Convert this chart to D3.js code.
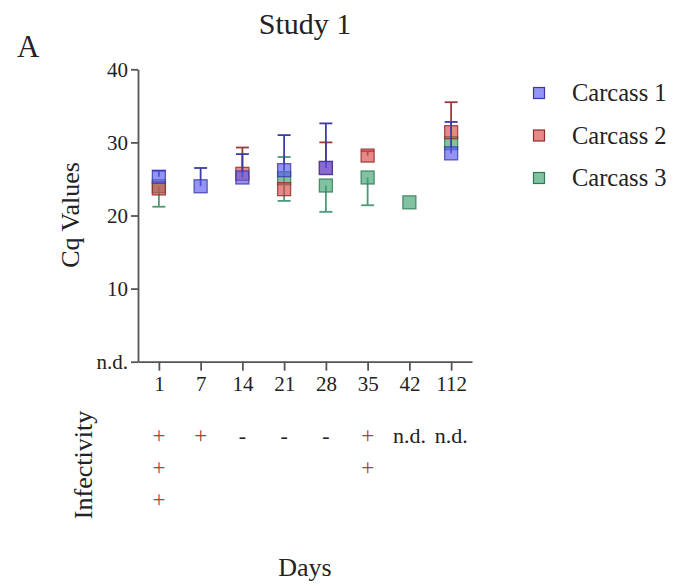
<!DOCTYPE html>
<meta charset="utf-8">
<style>
body { margin: 0; background: #fff; }
svg text { font-family: "Liberation Serif", "Times New Roman", serif; fill: #222; }
.axis path, .axis line { stroke: #555; stroke-width: 1.8px; }
.axis text { font-size: 21px; fill: #222; }
</style>
<body>
<svg id="chart" width="674" height="584"></svg>
<script src="https://cdn.jsdelivr.net/npm/d3@7"></script>
<script>

// days sampled
var days = ["1", "7", "14", "21", "28", "35", "42", "112"];

// Cq means, upper / lower error ends (null = nothing drawn)
var carcass1Mean  = [25.3, 24.0, 25.2, 26.2, 26.5, null, null, 28.5];
var carcass1Upper = [26.1, 26.5, 28.4, 31.0, 32.6, null, null, 32.8];
var carcass1Lower = [null, null, null, null, null, null, null, null];

var carcass2Mean  = [23.7, null, 25.7, 23.6, 26.5, 28.2, null, 31.4];
var carcass2Upper = [null, null, 29.3, null, 30.0, 28.8, null, 35.5];
var carcass2Lower = [null, null, null, null, null, null, null, null];

var carcass3Mean  = [24.0, null, null, 25.1, 24.1, 25.2, 21.8, 29.9];
var carcass3Upper = [null, null, null, 28.0, null, null, null, null];
var carcass3Lower = [21.2, null, null, 22.0, 20.5, 21.4, null, null];

var yTicks = [0, 10, 20, 30, 40];

// infectivity rows under each day
var infectRow1 = ["+", "+", "-", "-", "-", "+", "n.d.", "n.d."];
var infectRow2 = ["+", "", "", "", "", "+", "", ""];
var infectRow3 = ["+", "", "", "", "", "", "", ""];

var series = [
  {name: "Carcass 3", mean: carcass3Mean, up: carcass3Upper, lo: carcass3Lower,
   fill: "#3f9f70", stroke: "#2e7a52", err: "#4a9a75"},
  {name: "Carcass 2", mean: carcass2Mean, up: carcass2Upper, lo: carcass2Lower,
   fill: "#d84a4a", stroke: "#8e2b2b", err: "#9c3a3a"},
  {name: "Carcass 1", mean: carcass1Mean, up: carcass1Upper, lo: carcass1Lower,
   fill: "#5a5af0", stroke: "#3a3aa6", err: "#3c3ca8"}
];

var svg = d3.select("#chart");

var x = d3.scalePoint().domain(days).range([138, 472]).padding(0.5);
var y = d3.scaleLinear().domain([0, 40]).range([361.7, 69.3]);

svg.append("g")
    .attr("class", "axis")
    .attr("transform", "translate(138,0)")
    .call(d3.axisLeft(y).tickValues(yTicks).tickSize(7).tickSizeOuter(0).tickPadding(3)
      .tickFormat(function(d) { return d === 0 ? "n.d." : d; }));

svg.append("g")
    .attr("class", "axis")
    .attr("transform", "translate(0," + y(0) + ")")
    .call(d3.axisBottom(x).tickSize(9).tickSizeOuter(0).tickPadding(5));

var sq = 13, cap = 6.5;

series.forEach(function(s) {
  var pts = days.map(function(d, i) {
    return {day: d, m: s.mean[i], up: s.up[i], lo: s.lo[i]};
  }).filter(function(p) { return p.m != null; });

  var g = svg.append("g");

  pts.forEach(function(p) {
    var cx = x(p.day);
    [p.up, p.lo].forEach(function(e) {
      if (e == null) return;
      g.append("line").attr("x1", cx).attr("x2", cx)
        .attr("y1", y(p.m)).attr("y2", y(e))
        .attr("stroke", s.err).attr("stroke-width", 1.8);
      g.append("line").attr("x1", cx - cap).attr("x2", cx + cap)
        .attr("y1", y(e)).attr("y2", y(e))
        .attr("stroke", s.err).attr("stroke-width", 1.8);
    });
  });

  g.selectAll("rect").data(pts).enter().append("rect")
    .attr("x", function(p) { return x(p.day) - sq / 2; })
    .attr("y", function(p) { return y(p.m) - sq / 2; })
    .attr("width", sq).attr("height", sq)
    .attr("fill", s.fill).attr("fill-opacity", 0.65)
    .attr("stroke", s.stroke).attr("stroke-opacity", 0.8).attr("stroke-width", 1.3);
});

// legend
var legend = svg.append("g").selectAll("g")
  .data(series.slice().reverse())
  .enter().append("g")
    .attr("transform", function(d, i) { return "translate(539," + (93 + i * 42.5) + ")"; });

legend.append("rect")
    .attr("x", -5.5).attr("y", -5.5).attr("width", 11).attr("height", 11)
    .attr("fill", function(d) { return d.fill; }).attr("fill-opacity", 0.65)
    .attr("stroke", function(d) { return d.stroke; }).attr("stroke-width", 1.2);

legend.append("text")
    .attr("x", 33).attr("y", 8)
    .style("font-size", "24.5px")
    .text(function(d) { return d.name; });

// infectivity table
[infectRow1, infectRow2, infectRow3].forEach(function(row, r) {
  svg.append("g").selectAll("text")
    .data(row.map(function(v, i) { return {day: days[i], v: v}; }))
    .enter().append("text")
      .attr("x", function(d) { return x(d.day); })
      .attr("y", 443 + r * 32)
      .attr("text-anchor", "middle")
      .style("font-size", function(d) { return d.v === "+" ? "23px" : "22px"; })
      .style("fill", function(d) { return d.v === "+" ? "#b03a3a" : "#222"; })
      .text(function(d) { return d.v; });
});

// titles
svg.append("text").attr("x", 305).attr("y", 34).attr("text-anchor", "middle")
    .style("font-size", "30px").text("Study 1");

svg.append("text").attr("x", 17).attr("y", 57)
    .style("font-size", "31px").text("A");

svg.append("text")
    .attr("transform", "translate(79,215) rotate(-90)")
    .attr("text-anchor", "middle")
    .style("font-size", "26px").text("Cq Values");

svg.append("text")
    .attr("transform", "translate(92,465) rotate(-90)")
    .attr("text-anchor", "middle")
    .style("font-size", "26px").text("Infectivity");

svg.append("text").attr("x", 305).attr("y", 576).attr("text-anchor", "middle")
    .style("font-size", "26px").text("Days");

</script>
</body>
